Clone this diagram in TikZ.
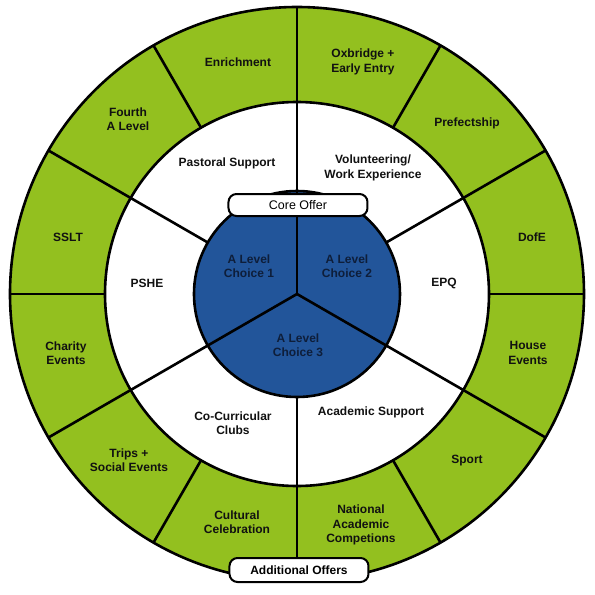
\documentclass[tikz,border=0pt]{standalone}
\usepackage{fontspec}
\setmainfont{Liberation Sans}
\usepackage{xcolor}
\usepackage{tikz}
\definecolor{whGreen}{HTML}{93C01F}
\definecolor{whBlue}{HTML}{22559A}
\definecolor{whDark}{HTML}{111111}
\definecolor{whNavy}{HTML}{0E1E3A}
\tikzset{
  rim/.style={draw=black, line width=2.6pt},
  spoke/.style={draw=black, line width=2.6pt},
  lbl/.style={font=\fontsize{12}{14.5}\selectfont\bfseries, align=center, text=whDark, inner sep=0pt},
  lblb/.style={lbl, text=whNavy},
  tag/.style={draw=black, line width=2pt, rounded corners=8pt, fill=white, minimum width=139pt, minimum height=22pt, inner sep=0pt, font=\fontsize{12}{14}\selectfont\bfseries, text=black},
}

\begin{document}
\begin{tikzpicture}[x=1pt, y=1pt]
  \useasboundingbox (-297,-301) rectangle (298,294);
  % rings
  \fill[whGreen] (0,0) circle (287);
  \fill[white] (0,0) circle (192);
  \fill[whBlue] (0,0) circle (103);
  \foreach \a in {0,30,...,330}
    \draw[spoke] (\a:192) -- (\a:287);
  \foreach \a in {30,90,...,330}
    \draw[spoke] (\a:103) -- (\a:192);
  \foreach \a in {90,210,330}
    \draw[spoke] (0,0) -- (\a:103);
  \draw[rim] (0,0) circle (287);
  \draw[rim] (0,0) circle (192);
  \draw[rim] (0,0) circle (103);

  % additional offers
  \node[lbl] (enrich) at (-59,232) {Enrichment};
  \node[lbl] (oxbridge) at (66,232) {Oxbridge +\\Early Entry};
  \node[lbl] (prefect) at (170,171) {Prefectship};
  \node[lbl] (dofe) at (235,57) {DofE};
  \node[lbl] (house) at (231,-59) {House\\Events};
  \node[lbl] (sport) at (170,-167) {Sport};
  \node[lbl] (national) at (64,-231) {National\\Academic\\Competions};
  \node[lbl] (cultural) at (-60,-228) {Cultural\\Celebration};
  \node[lbl] (trips) at (-168,-166) {Trips +\\Social Events};
  \node[lbl] (charity) at (-231,-59) {Charity\\Events};
  \node[lbl] (sslt) at (-229,57) {SSLT};
  \node[lbl] (fourth) at (-169,175) {Fourth\\A Level};

  % core offer
  \node[lbl] (pastoral) at (-70,131) {Pastoral Support};
  \node[lbl] (volunteer) at (76,126) {Volunteering/\\Work Experience};
  \node[lbl] (pshe) at (-150,11) {PSHE};
  \node[lbl] (epq) at (147,11) {EPQ};
  \node[lbl] (cocurr) at (-64,-129) {Co-Curricular\\Clubs};
  \node[lbl] (academic) at (74,-118) {Academic Support};

  % choices
  \node[lblb] (choice1) at (-48,28) {A Level\\Choice 1};
  \node[lblb] (choice2) at (50,28) {A Level\\Choice 2};
  \node[lblb] (choice3) at (1,-51) {A Level\\Choice 3};

  \node[tag, font=\fontsize{12.5}{14}\selectfont] (core) at (1,89) {Core Offer};
  \node[tag, minimum height=24pt] (additional) at (2,-276) {Additional Offers};
\end{tikzpicture}
\end{document}
